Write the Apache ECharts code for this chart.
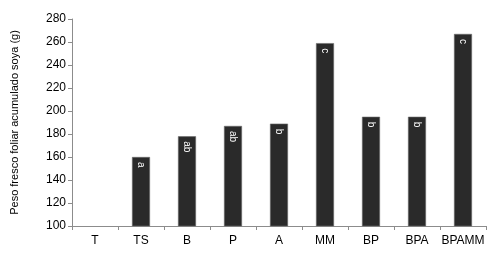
<!DOCTYPE html>
<html><head><meta charset="utf-8">
<script src="https://cdn.jsdelivr.net/npm/echarts@6/dist/echarts.min.js"></script>
<style>html,body{margin:0;padding:0;background:#fff}#c{width:499px;height:258px}</style>
</head><body><div id="c"></div>
<script>
var categories = ['T','TS','B','P','A','MM','BP','BPA','BPAMM'];
var values = [null,160,178,187,189,259,195,195,267];
var letters = ['','a','ab','ab','b','c','b','b','c'];
var yTitle = 'Peso fresco foliar acumulado soya (g)';

var chart = echarts.init(document.getElementById('c'));
chart.setOption({
  animation:false,
  grid:{left:72,right:13,top:19,bottom:32},
  xAxis:{type:'category',data:categories,
    axisLine:{lineStyle:{color:'#8c8c8c'}},
    axisTick:{show:true,length:4,lineStyle:{color:'#8c8c8c'}},
    axisLabel:{interval:0,color:'#000',fontSize:12,fontFamily:'Liberation Sans, Arial',margin:9}},
  yAxis:{type:'value',min:100,max:280,interval:20,
    name:yTitle,nameLocation:'middle',nameGap:52,
    nameTextStyle:{color:'#000',fontSize:11,fontFamily:'Liberation Sans, Arial'},
    splitLine:{show:false},
    axisLine:{show:true,lineStyle:{color:'#8c8c8c'}},
    axisTick:{show:true,length:4,lineStyle:{color:'#8c8c8c'}},
    axisLabel:{color:'#000',fontSize:12,fontFamily:'Liberation Sans, Arial',margin:6}},
  series:[{type:'bar',barWidth:18,
    data:values,
    itemStyle:{color:'#2a2a2a',borderColor:'#6a6a6a',borderWidth:0.6},
    label:{show:true,position:'insideTop',rotate:-90,distance:5,align:'left',verticalAlign:'middle',
      color:'#fff',fontSize:10,fontFamily:'Liberation Sans, Arial',
      formatter:function(p){return letters[p.dataIndex];}}
  }]
});
</script></body></html>
